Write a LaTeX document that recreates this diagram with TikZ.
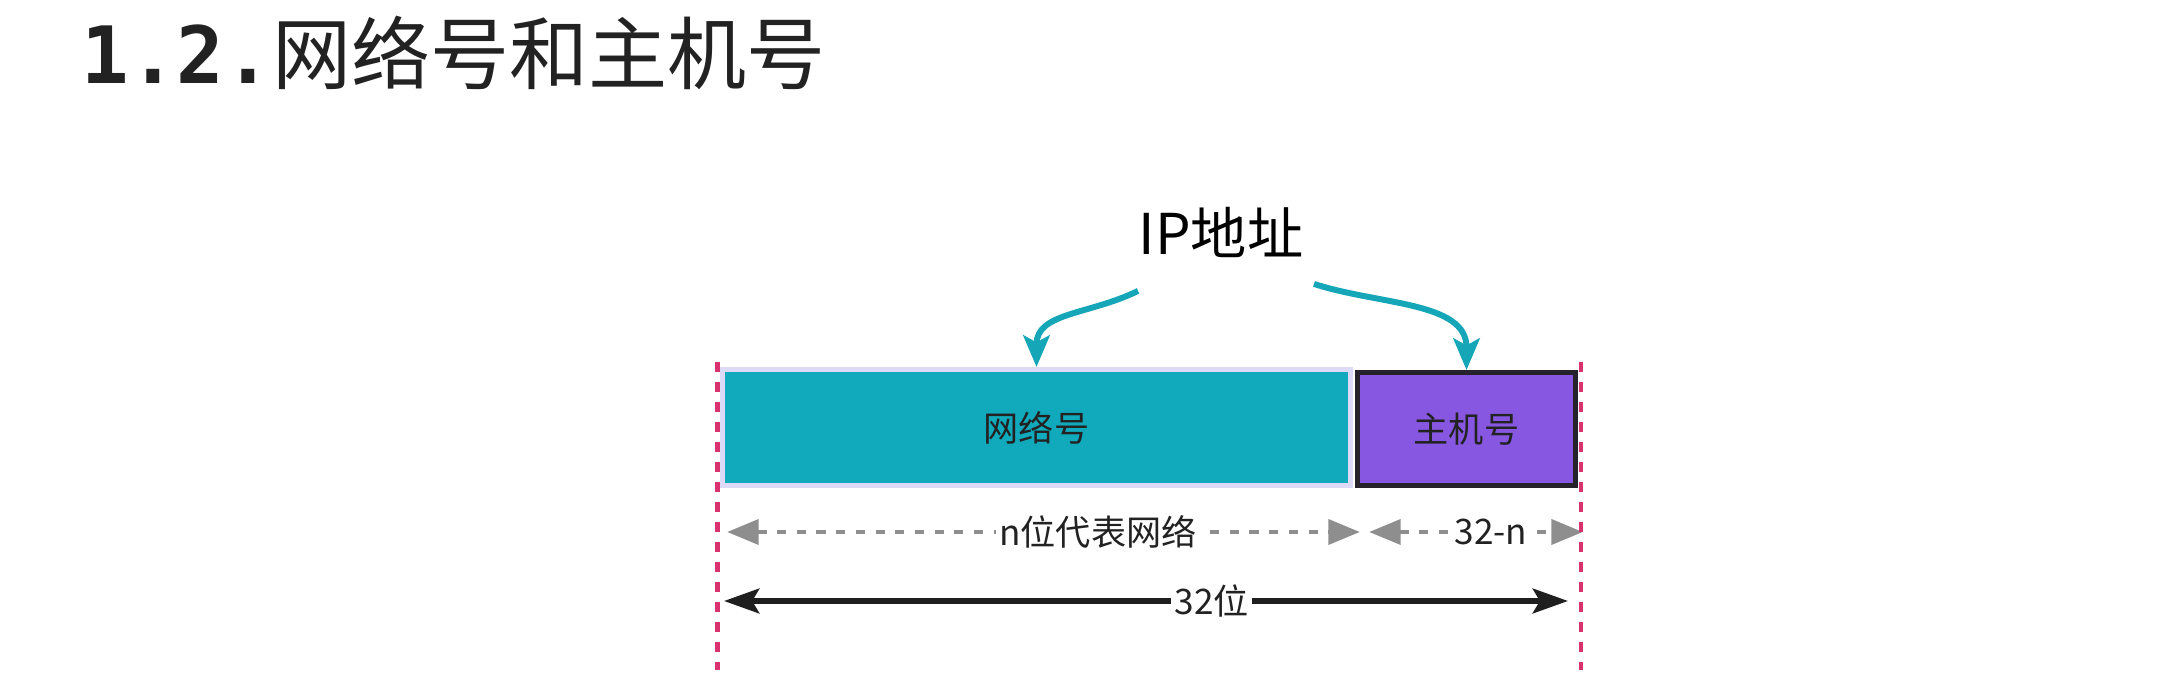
\documentclass[tikz,border=0pt]{standalone}
\usepackage{fontspec}
\setmainfont{Noto Sans CJK SC}
\newfontfamily\monob{DejaVu Sans Mono}
\usepackage{tikz}
\usetikzlibrary{arrows.meta, positioning}

\definecolor{tealnet}{HTML}{10AABC}
\definecolor{lavedge}{HTML}{DCDAF6}
\definecolor{purphost}{HTML}{8757E2}
\definecolor{darkedge}{HTML}{26222C}
\definecolor{pinkguide}{HTML}{D8336E}
\definecolor{greyspan}{HTML}{8E8E8E}
\definecolor{arrowteal}{HTML}{15A7B8}
\definecolor{inkdark}{HTML}{222222}

\begin{document}
\begin{tikzpicture}[
    guide/.style={pinkguide, line width=1.15pt, dash pattern=on 2.85pt off 2.85pt},
    span/.style={greyspan, line width=1.4pt, dash pattern=on 2.6pt off 3pt,
        {Triangle[length=9pt,width=7pt]}-{Triangle[length=9pt,width=7pt]}},
    total/.style={black!88, line width=1.6pt,
        {Stealth[length=10pt,width=7pt,inset=2pt]}-{Stealth[length=10pt,width=7pt,inset=2pt]}},
    ptr/.style={arrowteal, line width=1.7pt, -{Stealth[length=9pt,width=7.5pt,inset=2pt]}},
    field/.style={line width=1.4pt, inner sep=0pt, text=inkdark, font=\fontsize{10}{12}\selectfont},
    lbl/.style={fill=white, inner sep=1pt, text=inkdark, font=\fontsize{10}{12}\selectfont}
]
    \useasboundingbox (0,0) rectangle (21.69,-6.91);

    % heading
    \node[anchor=base west, inner sep=0pt, text=inkdark, font=\fontsize{22.5}{26}\selectfont]
        (title) at (0.81,-0.84) {{\monob\bfseries 1.2.}网络号和主机号};

    % address and its two parts
    \node[inner sep=0pt, font=\fontsize{16}{19}\selectfont] (ip) at (12.21,-2.32) {IP地址};
    \node[field, draw=lavedge, fill=tealnet, minimum width=6.28cm, minimum height=1.16cm]
        (net) at (10.365,-4.275) {网络号};
    \node[field, draw=darkedge, fill=purphost, minimum width=2.18cm, minimum height=1.13cm]
        (host) at (14.665,-4.29) {主机号};

    \coordinate[below=0.33 of ip.south west] (ipL);
    \coordinate[below right=0.26 and 0.1 of ip.south east] (ipR);
    \draw[ptr] (ipL) to[out=206,in=90,looseness=1.1] (net.north);
    \draw[ptr] (ipR) to[out=-18,in=90] (host.north);

    % widths
    \coordinate (netL) at (7.27,-5.32);
    \coordinate (netR) at (13.60,-5.32);
    \coordinate (hostL) at (13.69,-5.32);
    \coordinate (hostR) at (15.83,-5.32);
    \coordinate (allL) at (7.24,-6.01);
    \coordinate (allR) at (15.68,-6.01);
    \draw[span] (netL) -- node[lbl, pos=0.586] (nbits) {n位代表网络} (netR);
    \draw[span] (hostL) -- node[lbl, pos=0.57] (hbits) {32-n} (hostR);
    \draw[total] (allL) -- node[lbl, pos=0.578] (abits) {32位} (allR);

    % guide lines
    \coordinate (gl1) at (7.175,-3.62);
    \coordinate (gl2) at (7.175,-6.70);
    \coordinate (gr1) at (15.81,-3.62);
    \coordinate (gr2) at (15.81,-6.70);
    \draw[guide] (gl1) -- (gl2);
    \draw[guide] (gr1) -- (gr2);
\end{tikzpicture}
\end{document}
